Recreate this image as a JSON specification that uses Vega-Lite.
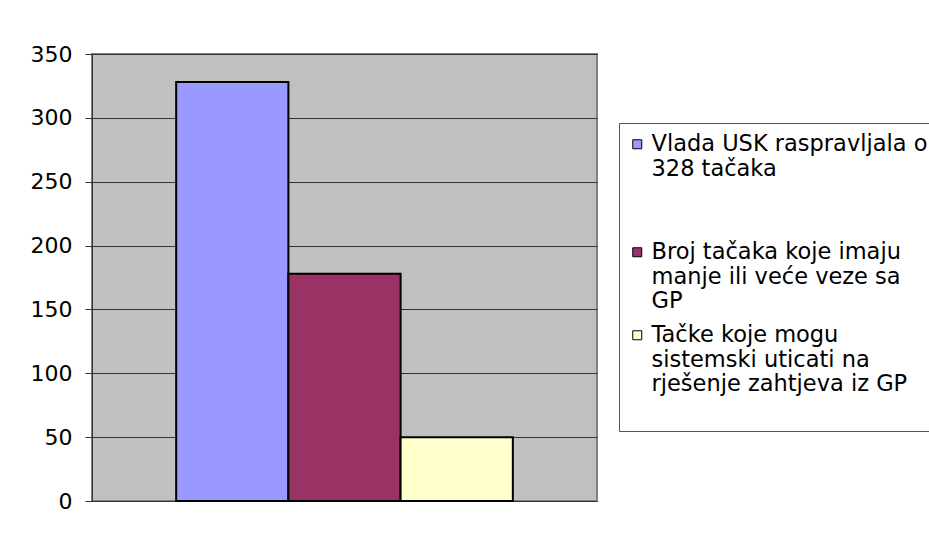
{
  "$schema": "https://vega.github.io/schema/vega-lite/v6.json",
  "width": 505,
  "height": 447,
  "autosize": {"type": "none"},
  "padding": {"left": 92, "top": 54, "right": 332, "bottom": 36},
  "background": "white",
  "data": {
    "values": [
      {"series": "Vlada USK raspravljala o 328 tačaka", "value": 328},
      {"series": "Broj tačaka koje imaju manje ili veće veze sa GP", "value": 178},
      {"series": "Tačke koje mogu sistemski uticati na rješenje zahtjeva iz GP", "value": 50}
    ]
  },
  "mark": {"type": "bar", "stroke": "#000000", "strokeWidth": 2},
  "encoding": {
    "x": {
      "field": "series",
      "type": "nominal",
      "sort": null,
      "axis": null,
      "scale": {"paddingInner": 0, "paddingOuter": 0.75}
    },
    "y": {
      "field": "value",
      "type": "quantitative",
      "scale": {"domain": [0, 350], "nice": false},
      "axis": {
        "title": null,
        "values": [0, 50, 100, 150, 200, 250, 300, 350],
        "labelFont": "DejaVu Sans",
        "labelFontSize": 22,
        "labelColor": "#000000",
        "labelPadding": 13,
        "tickSize": 7,
        "tickColor": "#333333",
        "domainColor": "#333333",
        "gridColor": "#333333",
        "gridOpacity": 1,
        "grid": true
      }
    },
    "color": {
      "field": "series",
      "type": "nominal",
      "sort": null,
      "scale": {"range": ["#9999FF", "#993366", "#FFFFCC"]},
      "legend": {
        "orient": "none",
        "legendX": 527,
        "legendY": 69,
        "title": null,
        "padding": 10,
        "strokeColor": "#555555",
        "fillColor": "#FFFFFF",
        "labelFont": "DejaVu Sans",
        "labelFontSize": 22.5,
        "labelColor": "#000000",
        "labelLimit": 500,
        "labelOffset": 3,
        "labelBaseline": "top",
        "rowPadding": 11,
        "symbolType": "square",
        "symbolSize": 81,
        "symbolOffset": -3,
        "symbolStrokeColor": "#000000",
        "symbolStrokeWidth": 1,
        "labelExpr": "datum.value == 'Vlada USK raspravljala o 328 tačaka' ? ['Vlada USK raspravljala o', '328 tačaka', '', ''] : datum.value == 'Broj tačaka koje imaju manje ili veće veze sa GP' ? ['Broj tačaka koje imaju', 'manje ili veće veze sa', 'GP'] : ['Tačke koje mogu', 'sistemski uticati na', 'rješenje zahtjeva iz GP', '']",
        "encode": {
          "labels": {"update": {"dy": {"value": -11}}}
        }
      }
    }
  },
  "config": {
    "view": {"fill": "#C0C0C0", "stroke": "#808080", "strokeWidth": 2}
  }
}
